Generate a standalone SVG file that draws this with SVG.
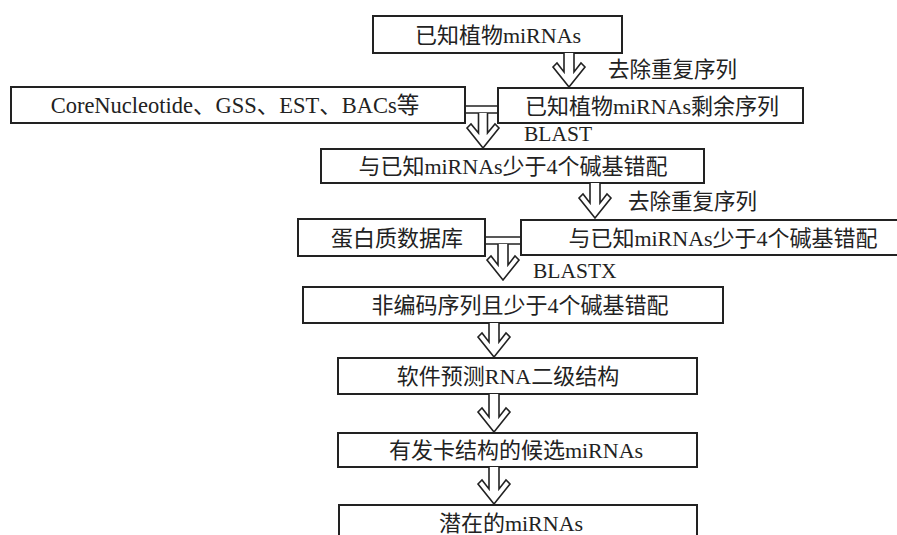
<svg xmlns="http://www.w3.org/2000/svg" width="897" height="535" viewBox="0 0 897 535">
<style>
.box{fill:#fff;stroke:#222;stroke-width:2}
.t{font-family:"Liberation Serif","Noto Sans CJK SC",serif;font-size:22px;fill:#222;text-anchor:middle;dominant-baseline:central}
.l{font-family:"Liberation Serif","Noto Sans CJK SC",serif;font-size:21.5px;fill:#222;dominant-baseline:central}
.arr{fill:#fff;stroke:#222;stroke-width:1.6;stroke-linejoin:miter}
.cl{stroke:#222;stroke-width:1.6;fill:none}
</style>
<rect width="897" height="535" fill="#fff"/>
<g id="n1"><rect class="box" x="373" y="16" width="249" height="37"/><text class="t" x="498" y="35">已知植物miRNAs</text></g>
<g id="n2"><rect class="box" x="11" y="87" width="454" height="36"/><text class="t" x="235" y="105" style="font-size:22.5px">CoreNucleotide、GSS、EST、BACs等</text></g>
<g id="n3"><rect class="box" x="498" y="88" width="305" height="35"/><text class="t" x="652" y="106">已知植物miRNAs剩余序列</text></g>
<g id="n4"><rect class="box" x="321" y="149" width="383" height="34"/><text class="t" x="513" y="166">与已知miRNAs少于4个碱基错配</text></g>
<g id="n5"><rect class="box" x="298" y="219" width="187" height="37"/><text class="t" x="397" y="238">蛋白质数据库</text></g>
<g id="n6"><rect class="box" x="521" y="220" width="390" height="35"/><text class="t" x="723" y="238">与已知miRNAs少于4个碱基错配</text></g>
<g id="n7"><rect class="box" x="303" y="287" width="420" height="36"/><text class="t" x="520" y="305">非编码序列且少于4个碱基错配</text></g>
<g id="n8"><rect class="box" x="338" y="358" width="359" height="36"/><text class="t" x="508" y="376">软件预测RNA二级结构</text></g>
<g id="n9"><rect class="box" x="338" y="433" width="359" height="34"/><text class="t" x="516" y="450">有发卡结构的候选miRNAs</text></g>
<g id="n10"><rect class="box" x="339" y="505" width="358" height="40"/><text class="t" x="511" y="523">潜在的miRNAs</text></g>
<g id="connectors">
<path class="cl" d="M465,106H498M465,113H498"/>
<path class="cl" d="M485,237H521M485,244H521"/>
<path class="arr" d="M564,53V72L557,63L553,67L569,87L585,67L581,63L574,72V53"/>
<path class="arr" d="M478.5,113V133L471,124L467,128L483,148L499,128L495,124L487.5,133V113"/>
<path class="arr" d="M590,183V203L583,194L579,198L595,218L611,198L607,194L600,203V183"/>
<path class="arr" d="M498,244V265L491,256L487,260L503,280L519,260L515,256L508,265V244"/>
<path class="arr" d="M489,323V342L482,333L478,337L494,357L510,337L506,333L499,342V323"/>
<path class="arr" d="M489,394V417L482,408L478,412L494,432L510,412L506,408L499,417V394"/>
<path class="arr" d="M489,467V489L482,480L478,484L494,504L510,484L506,480L499,489V467"/>
<text class="l" x="608" y="70">去除重复序列</text>
<text class="l" x="524" y="134">BLAST</text>
<text class="l" x="628" y="202">去除重复序列</text>
<text class="l" x="533" y="271">BLASTX</text>
</g>
</svg>
